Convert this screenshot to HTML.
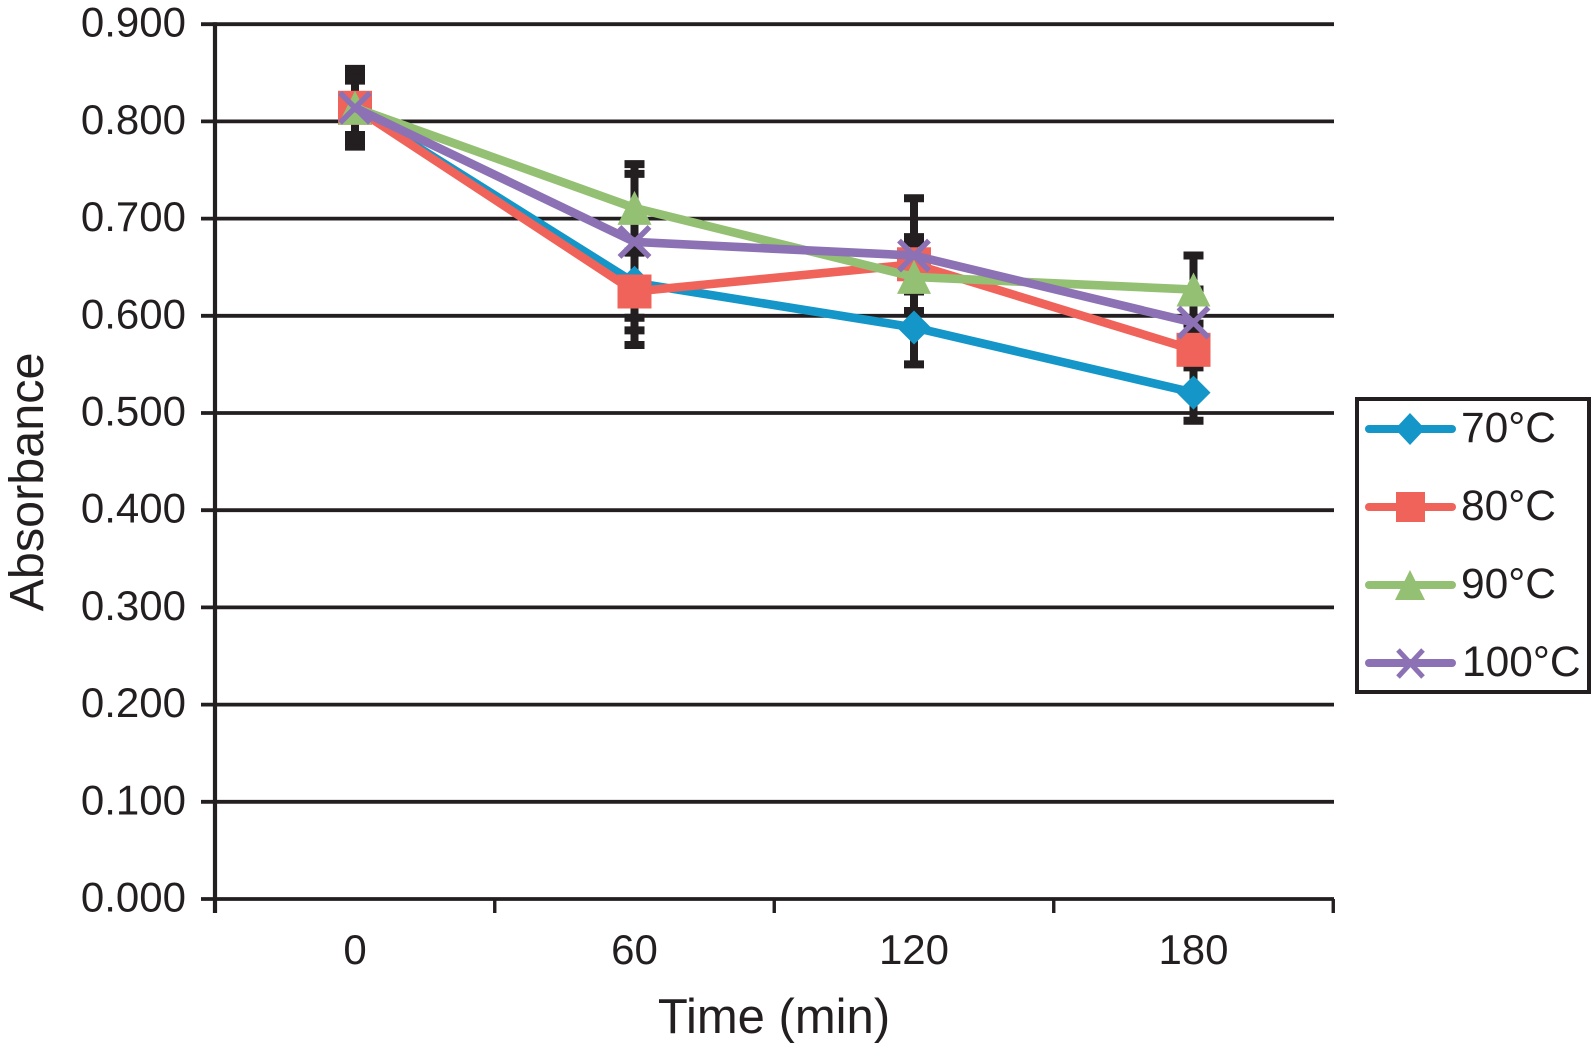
<!DOCTYPE html>
<html lang="en">
<head>
<meta charset="utf-8">
<title>Absorbance vs Time</title>
<style>
html,body{margin:0;padding:0;background:#fff;}
body{width:1591px;height:1045px;overflow:hidden;}
svg{display:block;}
text{font-family:"Liberation Sans",sans-serif;fill:#231f20;}
</style>
</head>
<body>
<svg id="chart" xmlns="http://www.w3.org/2000/svg" width="1591" height="1045" viewBox="0 0 1591 1045">
  <g id="grid"></g>
  <g id="yticks"></g>
  <g id="xaxis"></g>
  <g id="errors"></g>
  <g id="series"></g>
  <text transform="translate(43,482) rotate(-90)" text-anchor="middle" font-size="48.5">Absorbance</text>
  <text x="774" y="1033" text-anchor="middle" font-size="49">Time (min)</text>
  <g>
    <rect x="1357" y="399" width="232" height="293" fill="#fff" stroke="#231f20" stroke-width="4"/>
    <g>
      <line x1="1369" y1="429" x2="1452" y2="429" stroke="#1496c8" stroke-width="8" stroke-linecap="round"/>
      <polygon points="1410,413 1425,429 1410,445 1395,429" fill="#1496c8"/>
      <text x="1461" y="442" font-size="42.5">70°C</text>
    </g>
    <g>
      <line x1="1369" y1="507" x2="1452" y2="507" stroke="#f0635a" stroke-width="8" stroke-linecap="round"/>
      <rect x="1396" y="492" width="29" height="30" fill="#f0635a"/>
      <text x="1461" y="520" font-size="42.5">80°C</text>
    </g>
    <g>
      <line x1="1369" y1="585" x2="1452" y2="585" stroke="#94c073" stroke-width="8" stroke-linecap="round"/>
      <polygon points="1410,570 1425,600 1395,600" fill="#94c073"/>
      <text x="1461" y="598" font-size="42.5">90°C</text>
    </g>
    <g>
      <line x1="1369" y1="663" x2="1452" y2="663" stroke="#8c72b4" stroke-width="8" stroke-linecap="round"/>
      <path d="M1398,650 L1423,677 M1423,650 L1398,677" stroke="#8c72b4" stroke-width="5" fill="none"/>
      <text x="1462" y="676" font-size="42.5">100°C</text>
    </g>
  </g>
</svg>
<script>
const categories = ["0", "60", "120", "180"];
const yTickLabels = ["0.000", "0.100", "0.200", "0.300", "0.400", "0.500", "0.600", "0.700", "0.800", "0.900"];
const yTickValues = [0, 0.1, 0.2, 0.3, 0.4, 0.5, 0.6, 0.7, 0.8, 0.9];

const values70 = [0.814, 0.634, 0.588, 0.521];
const values80 = [0.814, 0.625, 0.653, 0.565];
const values90 = [0.814, 0.711, 0.640, 0.627];
const values100 = [0.814, 0.676, 0.662, 0.593];

const errPlus70 = [0.040, 0.064, 0.038, 0.029];
const errPlus80 = [0.028, 0.040, 0.028, 0.018];
const errPlus90 = [0.034, 0.045, 0.035, 0.035];
const errPlus100 = [0.030, 0.070, 0.059, 0.034];

const errMinus70 = [0.040, 0.064, 0.038, 0.029];
const errMinus80 = [0.028, 0.040, 0.028, 0.018];
const errMinus90 = [0.034, 0.045, 0.035, 0.035];
const errMinus100 = [0.030, 0.078, 0.059, 0.034];

const NS = "http://www.w3.org/2000/svg";
const INK = "#231f20";

function xScale(i) { return 355 + i * 279.5; }
function yScale(v) { return 899 - v * 972; }

function make(parent, tag, attrs) {
  const el = document.createElementNS(NS, tag);
  for (const k in attrs) el.setAttribute(k, attrs[k]);
  parent.appendChild(el);
  return el;
}

/* gridlines and y labels */
const grid = document.getElementById("grid");
const yticks = document.getElementById("yticks");
yTickValues.forEach(function (v, i) {
  const y = yScale(v);
  const line = make(grid, "line", { x1: 201, x2: 1334, y1: y, y2: y, stroke: INK, "stroke-width": 3.8 });
  
  
  const label = make(yticks, "text", { x: 186, y: y + 12.5, "text-anchor": "end", "font-size": 42 });
  label.textContent = yTickLabels[i];
  
  
});

/* axes */
const xaxis = document.getElementById("xaxis");
const yAxisLine = make(grid, "line", { x1: 215, x2: 215, y1: yScale(0.9) - 1.9, y2: 913, stroke: INK, "stroke-width": 4.2 });


for (let i = 0; i <= categories.length; i++) {
  const x = xScale(i - 0.5);
  const tick = make(xaxis, "line", { x1: x, x2: x, y1: yScale(0), y2: 913, stroke: INK, "stroke-width": 3.4 });
  
  
}
categories.forEach(function (c, i) {
  const label = make(xaxis, "text", { x: xScale(i), y: 964, "text-anchor": "middle", "font-size": 42 });
  label.textContent = c;
  
  
});

/* error bars */
const errorsLayer = document.getElementById("errors");
function drawErrors(vals, plus, minus) {
  vals.forEach(function (v, i) {
    const x = xScale(i);
    const top = yScale(v + plus[i]);
    const bot = yScale(v - minus[i]);
    const stem = make(errorsLayer, "line", { x1: x, x2: x, y1: top, y2: bot, stroke: INK, "stroke-width": 8 });
    
    
    const capTop = make(errorsLayer, "line", { x1: x - 10, x2: x + 10, y1: top, y2: top, stroke: INK, "stroke-width": 8 });
    
    
    const capBot = make(errorsLayer, "line", { x1: x - 10, x2: x + 10, y1: bot, y2: bot, stroke: INK, "stroke-width": 8 });
    
    
  });
}
drawErrors(values70, errPlus70, errMinus70);
drawErrors(values80, errPlus80, errMinus80);
drawErrors(values90, errPlus90, errMinus90);
drawErrors(values100, errPlus100, errMinus100);

/* series */
const seriesLayer = document.getElementById("series");
function drawLine(vals, color) {
  const pts = vals.map(function (v, i) { return xScale(i) + "," + yScale(v); }).join(" ");
  const line = make(seriesLayer, "polyline", { points: pts, fill: "none", stroke: color, "stroke-width": 8.6, "stroke-linejoin": "round" });
  
  
}
function marker(kind, x, y, color) {
  let el;
  if (kind === "diamond") {
    el = make(seriesLayer, "polygon", { points: [x, y - 17, x + 17, y, x, y + 17, x - 17, y].join(" "), fill: color });
  } else if (kind === "square") {
    el = make(seriesLayer, "rect", { x: x - 17, y: y - 17, width: 34, height: 34, fill: color });
  } else if (kind === "triangle") {
    el = make(seriesLayer, "polygon", { points: [x, y - 17, x + 17, y + 17, x - 17, y + 17].join(" "), fill: color });
  } else {
    el = make(seriesLayer, "path", { d: "M" + (x - 15) + "," + (y - 15) + " L" + (x + 15) + "," + (y + 15) + " M" + (x + 15) + "," + (y - 15) + " L" + (x - 15) + "," + (y + 15), fill: "none", stroke: color, "stroke-width": 5.5 });
  }
  
  
}
function drawSeries(vals, color, kind) {
  drawLine(vals, color);
  vals.forEach(function (v, i) { marker(kind, xScale(i), yScale(v), color); });
}
drawSeries(values70, "#1496c8", "diamond");
drawSeries(values80, "#f0635a", "square");
drawSeries(values90, "#94c073", "triangle");
drawSeries(values100, "#8c72b4", "cross");
</script>
</body>
</html>
